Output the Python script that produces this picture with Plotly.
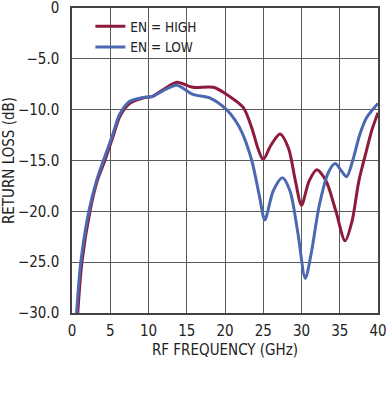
import plotly.graph_objects as go

high_x = [0.75, 1.3, 2.35, 3.3, 4.3, 5.3, 6.3, 7.6, 9.3, 10.5, 12, 13.7, 15.8, 18.5, 20.6, 22.4,
          23.5, 24.3, 25, 26, 27.2, 28.3, 29.2, 30, 31, 32, 33.2, 34.5, 35.7, 36.6, 37.5, 38.5, 39.2, 40]
high_y = [-30, -25, -20, -17, -15, -12.8, -10.6, -9.35, -8.85, -8.7, -8.0, -7.3, -7.8, -7.8, -8.7, -9.8,
          -11.8, -13.8, -14.9, -13.5, -12.4, -13.8, -17, -19.4, -17, -15.9, -17, -20, -22.9, -21, -17, -14, -12, -10.3]

low_x = [0.6, 1.15, 2.2, 3.2, 4.2, 5.3, 6.2, 7.5, 9.3, 10.5, 12, 13.7, 15.8, 18, 20.2, 21.3, 22.2,
         23.5, 24.5, 25.2, 26.3, 27.5, 28.5, 29.5, 30.5, 31.3, 32.3, 33.5, 34.4, 35.2, 35.9, 36.7, 37.6, 38.5, 40]
low_y = [-30, -25, -20, -17, -14.8, -12.5, -10.5, -9.2, -8.8, -8.7, -8.1, -7.6, -8.5, -8.85, -10, -11, -12.2,
         -15, -18.5, -20.85, -18, -16.7, -18, -22, -26.6, -24, -19.5, -16.2, -15.3, -16, -16.6, -15, -12.5, -10.8, -9.4]

x_ticks = [0, 5, 10, 15, 20, 25, 30, 35, 40]
y_ticks = [0, -5, -10, -15, -20, -25, -30]
y_labels = ["0", "−5.0", "−10.0", "−15.0", "−20.0", "−25.0", "−30.0"]

FONT = "Liberation Sans Narrow, DejaVu Sans Condensed, Arial Narrow, sans-serif"
RED = "#8e1a3c"
BLUE = "#4b68b0"

fig = go.Figure()
fig.add_trace(go.Scatter(x=high_x, y=high_y, mode="lines", name="EN = HIGH",
                         line=dict(color=RED, width=3, shape="spline", smoothing=0.8)))
fig.add_trace(go.Scatter(x=low_x, y=low_y, mode="lines", name="EN = LOW",
                         line=dict(color=BLUE, width=3, shape="spline", smoothing=0.8)))

fig.update_layout(
    width=386, height=400,
    margin=dict(l=72, r=8, t=8, b=87, autoexpand=False),
    paper_bgcolor="white", plot_bgcolor="white",
    font=dict(family=FONT, size=15, color="#222"),
    legend=dict(x=0.06, y=0.99, xanchor="left", yanchor="top", bgcolor="rgba(0,0,0,0)",
                font=dict(size=13.5), itemwidth=30, tracegroupgap=0),
    xaxis=dict(range=[0, 40], tickvals=x_ticks, ticktext=[str(v) for v in x_ticks],
               showgrid=True, gridcolor="#5a5a5a", gridwidth=1, zeroline=False,
               showline=True, linecolor="#444", linewidth=1.5, mirror=True,
               ticks="outside", ticklen=3, tickcolor="rgba(0,0,0,0)",
               automargin=False, ticklabeloverflow="allow",
               title=dict(text="RF FREQUENCY (GHz)", font=dict(size=15), standoff=6)),
    yaxis=dict(range=[-30, 0], tickvals=y_ticks, ticktext=y_labels,
               showgrid=True, gridcolor="#5a5a5a", gridwidth=1, zeroline=False,
               showline=True, linecolor="#444", linewidth=1.5, mirror=True,
               ticks="outside", ticklen=8, tickcolor="rgba(0,0,0,0)",
               automargin=False, ticklabeloverflow="allow",
               title=dict(text="RETURN LOSS (dB)", font=dict(size=15), standoff=2)),
)

fig.write_html("out.html", config={"displayModeBar": False},
               post_script="document.body.style.margin='0';document.body.style.overflow='hidden';")
